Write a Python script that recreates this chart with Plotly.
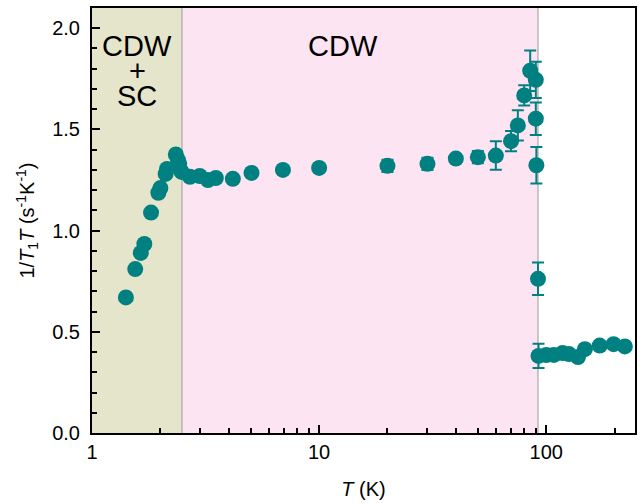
import numpy as np
import plotly.graph_objects as go

# Data
T_K = [1.41, 1.55, 1.64, 1.70, 1.82, 1.96, 2.00, 2.11, 2.14, 2.34, 2.39, 2.42, 2.48,
       2.70, 2.98, 3.24, 3.51, 4.17, 5.04, 6.93, 10, 20, 30, 40, 50, 60, 70, 75, 80,
       85, 90, 90, 90.5, 92, 92.5, 100, 108, 118, 126, 138, 148, 172, 198, 222]
inv_T1T = [0.67, 0.81, 0.89, 0.934, 1.089, 1.187, 1.21, 1.28, 1.305, 1.376, 1.35, 1.33, 1.29,
           1.266, 1.27, 1.25, 1.26, 1.256, 1.285, 1.30, 1.31, 1.32, 1.33, 1.356, 1.363, 1.371,
           1.442, 1.52, 1.668, 1.79, 1.745, 1.553, 1.323, 0.762, 0.381, 0.385, 0.386, 0.395,
           0.39, 0.375, 0.414, 0.432, 0.439, 0.428]
err = [0, 0, 0, 0, 0, 0, 0, 0, 0, 0, 0, 0, 0,
       0, 0, 0, 0, 0, 0, 0.01, 0.02, 0.03, 0.03, 0.02, 0.03, 0.07,
       0.05, 0.075, 0.05, 0.1, 0.09, 0.08, 0.09, 0.08, 0.06, 0.02, 0.02, 0.02,
       0.02, 0.02, 0.01, 0.01, 0.01, 0.01]

T_min, T_c_sc, T_cdw, T_max = 1.0, 2.49, 92.0, 246.0
major_ticks = [1, 10, 100]
minor_ticks = [2, 3, 4, 5, 6, 7, 8, 9, 20, 30, 40, 50, 60, 70, 80, 90, 200]

teal = "#008080"
font = "Liberation Sans, Arial, sans-serif"

fig = go.Figure()
fig.add_trace(go.Scatter(
    x=T_K, y=inv_T1T, mode="markers",
    marker=dict(color=teal, size=16, line=dict(width=0)),
    error_y=dict(type="data", array=err, color=teal, thickness=2, width=6),
    showlegend=False,
))

fig.add_shape(type="rect", xref="x", yref="paper", x0=T_min, x1=T_c_sc, y0=0, y1=1,
              fillcolor="#E5E5CB", line=dict(width=0), layer="below")
fig.add_shape(type="rect", xref="x", yref="paper", x0=T_c_sc, x1=T_cdw, y0=0, y1=1,
              fillcolor="#FDE4F2", line=dict(width=0), layer="below")
for xv in [T_c_sc, T_cdw]:
    fig.add_shape(type="line", xref="x", yref="paper", x0=xv, x1=xv, y0=0, y1=1,
                  line=dict(color="#A8A8A8", width=1.2), layer="below")

xmid_sc = np.log10(1.58)
for txt, yv in [("CDW", 46), ("+", 71), ("SC", 96)]:
    fig.add_annotation(x=xmid_sc, xref="x", y=1 - (yv - 8) / 425, yref="paper",
                       yanchor="middle", xanchor="center", height=24,
                       text=txt, showarrow=False, font=dict(size=29, family=font, color="black"))
fig.add_annotation(x=np.log10(12.7), xref="x", y=1 - (46 - 8) / 425, yref="paper",
                   yanchor="middle", xanchor="center",
                   text="CDW", showarrow=False, font=dict(size=29, family=font, color="black"))

fig.update_xaxes(
    type="log", range=[np.log10(T_min), np.log10(T_max)],
    tickvals=major_ticks, ticktext=[str(v) for v in major_ticks],
    ticks="inside", ticklen=8, tickwidth=2, tickcolor="black",
    minor=dict(tickvals=minor_ticks, ticks="inside", ticklen=5, tickwidth=1.5, tickcolor="black"),
    showline=True, linecolor="black", linewidth=2, mirror=True,
    showgrid=False, zeroline=False,
    tickfont=dict(size=20, family=font, color="black"),
    title=dict(text="<i>T</i> (K)", font=dict(size=20, family=font, color="black"), standoff=20),
)
fig.update_yaxes(
    range=[0, 2.1], dtick=0.5, tick0=0, tickformat=".1f",
    ticks="inside", ticklen=8, tickwidth=2, tickcolor="black",
    minor=dict(dtick=0.1, ticks="inside", ticklen=5, tickwidth=1.5, tickcolor="black"),
    showline=True, linecolor="black", linewidth=2, mirror=True,
    showgrid=False, zeroline=False, ticklabelstandoff=6,
    tickfont=dict(size=20, family=font, color="black"),
    title=dict(text="1/<i>T</i><sub>1</sub><i>T</i> (s<sup>-1</sup>K<sup>-1</sup>)",
               font=dict(size=20, family=font, color="black"), standoff=12),
)
fig.update_layout(
    width=642, height=504,
    margin=dict(l=92, r=5, t=8, b=71),
    paper_bgcolor="white", plot_bgcolor="white",
)
fig.write_html("out.html")
